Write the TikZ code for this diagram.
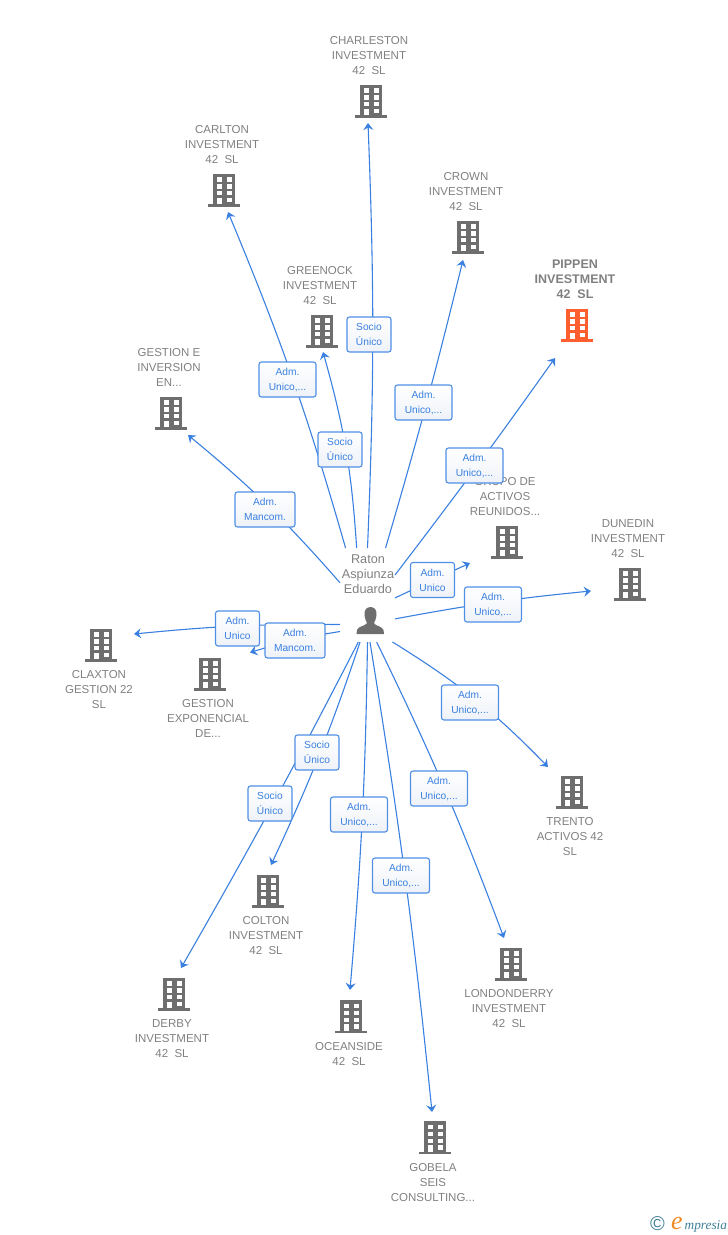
\documentclass[tikz,border=0pt]{standalone}
\usepackage{fontspec}
\setmainfont{Liberation Sans}
\newfontfamily\logofont{Liberation Serif}
\usetikzlibrary{positioning,arrows.meta}

\definecolor{labelgray}{HTML}{808080}
\definecolor{bldgray}{HTML}{6E6E6E}
\definecolor{bldorange}{HTML}{FF5F2E}
\definecolor{linkblue}{HTML}{3A80E0}
\definecolor{boxblue}{HTML}{4F8FE6}
\definecolor{boxpale}{HTML}{EEF2F8}
\definecolor{logoteal}{HTML}{3F7F98}
\definecolor{logoorange}{HTML}{F08A24}

\tikzset{
  complabel/.style={align=center,text=labelgray,inner sep=0pt,font=\fontsize{11.5}{15}\selectfont},
  bldbox/.style={minimum width=32pt,minimum height=33pt,inner sep=0pt,outer sep=0pt},
  link/.style={draw=linkblue,line width=1.1pt,-{Stealth[length=7pt,width=10pt,inset=2.5pt]}},
  linkbox/.style={draw=boxblue,line width=1.1pt,rounded corners=2.5pt,top color=white,bottom color=boxpale,
    text=linkblue,align=center,minimum height=35pt,inner sep=0pt,font=\fontsize{10.2}{15}\selectfont,
    execute at begin node={\rule{0pt}{9.5pt}}},
  pics/building/.style={code={
    \fill (-11,-16.5) rectangle (11,15);
    \fill (-16,14) rectangle (16,16.5);
    \foreach \wx in {-7.3,2.7} {
      \foreach \wy in {-12.7,-5.6,1} {
        \fill[white] (\wx,\wy) rectangle (\wx+5,\wy+4.3);
      }
    }
    \fill[white] (-7.3,7.7) rectangle (-2.3,14);
    \fill[white] (2.7,7.7) rectangle (7.7,12);
  }}
}

\begin{document}
\begin{tikzpicture}[x=1pt,y=-1pt]
  \useasboundingbox (0,0) rectangle (728,1235);

  % companies with the text above
  \foreach \x/\y/\nm/\tx/\ty/\txt in {
    371/101/charleston/368/123/{CHARLESTON\\INVESTMENT\\42\ \ SL},
    224/190/carlton/228/212/{CARLTON\\INVESTMENT\\42\ \ SL},
    468/237/crown/463/260/{CROWN\\INVESTMENT\\42\ \ SL},
    322/331/greenock/323/352/{GREENOCK\\INVESTMENT\\42\ \ SL},
    171/413/gestione/188/435/{GESTION E\\INVERSION\\EN...},
    507/542/grupo/470/563/{GRUPO DE\\ACTIVOS\\REUNIDOS...},
    630/584/dunedin/591/591/{DUNEDIN\\INVESTMENT\\42\ \ SL}} {
    \node[bldbox] (\nm) at (\x,\y) {};
    \pic[bldgray] at (\nm) {building};
    \node[complabel,above=10pt of \nm,xshift=-2pt] (\nm-txt) {\txt};
    \coordinate (\nm-tip) at (\tx,\ty);
  }

  % companies with the text below
  \foreach \x/\y/\nm/\tx/\ty/\txt in {
    101/645/claxton/134/634/{CLAXTON\\GESTION 22\\SL},
    210/674/gestionexp/250/652.5/{GESTION\\EXPONENCIAL\\DE...},
    572/792/trento/548/767/{TRENTO\\ACTIVOS 42\\SL},
    511/964/londonderry/504/938/{LONDONDERRY\\INVESTMENT\\42\ \ SL},
    268/891/colton/271/865/{COLTON\\INVESTMENT\\42\ \ SL},
    174/994/derby/181/968/{DERBY\\INVESTMENT\\42\ \ SL},
    351/1016.5/oceanside/350/990/{OCEANSIDE\\42\ \ SL},
    435/1137.5/gobela/432/1112/{GOBELA\\SEIS\\CONSULTING...}} {
    \node[bldbox] (\nm) at (\x,\y) {};
    \pic[bldgray] at (\nm) {building};
    \node[complabel,below=9pt of \nm,xshift=-2pt] (\nm-txt) {\txt};
    \coordinate (\nm-tip) at (\tx,\ty);
  }

  % the orange one
  \node[bldbox] (pippen) at (577,325) {};
  \pic[bldorange] at (pippen) {building};
  \node[complabel,above=10pt of pippen,xshift=-2pt,font=\fontsize{12.5}{15}\selectfont\bfseries] (pippen-txt) {PIPPEN\\INVESTMENT\\42\ \ SL};
  \coordinate (pippen-tip) at (555,358);

  % the person
  \node[minimum width=55pt,minimum height=94pt,inner sep=0pt,outer sep=0pt] (hub) at (367.5,595) {};
  \node[complabel,font=\fontsize{12.7}{15}\selectfont] (raton) at (368,574) {Raton\\Aspiunza\\Eduardo};
  \fill[bldgray] (370.5,607) .. controls (366,607) and (364,611) .. (364.5,615)
    .. controls (365,619) and (366,621) .. (367,623)
    .. controls (366,626) and (358,626) .. (357,630) -- (356.5,634) -- (384,634) -- (383.5,630)
    .. controls (382,626) and (375,626) .. (374,623)
    .. controls (375,621) and (376,619) .. (376.5,615)
    .. controls (377,611) and (375,607) .. (370.5,607) -- cycle;

  \foreach \nm/\ang/\bnd in {
    charleston/90/-2.3, carlton/115.6/-3.3, crown/69.6/-1.3, greenock/103.7/-6,
    pippen/36/-1, gestione/156.4/-4.6, grupo/-6.2/0, dunedin/-41/2.5,
    claxton/-133.5/-3, gestionexp/-127.4/-4, trento/-62.5/7, londonderry/-79.7/2.7,
    gobela/-87/1.7, oceanside/-90.6/2, colton/-99.1/3.2, derby/-101.4/1.3} {
    \draw[link] (hub.\ang) to[bend left=\bnd] (\nm-tip);
  }

  % the boxes on the links
  \foreach \nm/\x/\y/\w/\txt in {
    charleston/369/334.5/44/{Socio\\Único},
    carlton/287.5/379.5/57/{Adm.\\Unico,...},
    crown/423.5/402.5/57/{Adm.\\Unico,...},
    greenock/340/449.5/44/{Socio\\Único},
    pippen/474.5/465.5/57/{Adm.\\Unico,...},
    gestione/265/509.5/60/{Adm.\\Mancom.},
    grupo/432.5/580/44/{Adm.\\Unico},
    dunedin/493/604.5/57/{Adm.\\Unico,...},
    claxton/237.5/628.5/44/{Adm.\\Unico},
    gestionexp/295/640.5/60/{Adm.\\Mancom.},
    trento/470/702.5/57/{Adm.\\Unico,...},
    londonderry/439/788.5/57/{Adm.\\Unico,...},
    oceanside/359/814.5/57/{Adm.\\Unico,...},
    gobela/401/875.5/57/{Adm.\\Unico,...},
    colton/317/752.5/44/{Socio\\Único},
    derby/270/803.5/44/{Socio\\Único}} {
    \node[linkbox,minimum width=\w pt] (\nm-box) at (\x,\y) {\txt};
  }

  % logo
  \node[text=logoteal,inner sep=0pt,font=\fontsize{20}{20}\selectfont] (logoc) at (657.5,1224) {\textcopyright};
  \node[text=logoorange,inner sep=0pt,font=\logofont\fontsize{26}{26}\selectfont\itshape,anchor=base] (logoe) at (677,1229) {e};
  \node[text=logoteal,inner sep=0pt,font=\logofont\fontsize{13.3}{14}\selectfont\itshape,anchor=base west] (logot) at (684.5,1229) {mpresia};
\end{tikzpicture}
\end{document}
